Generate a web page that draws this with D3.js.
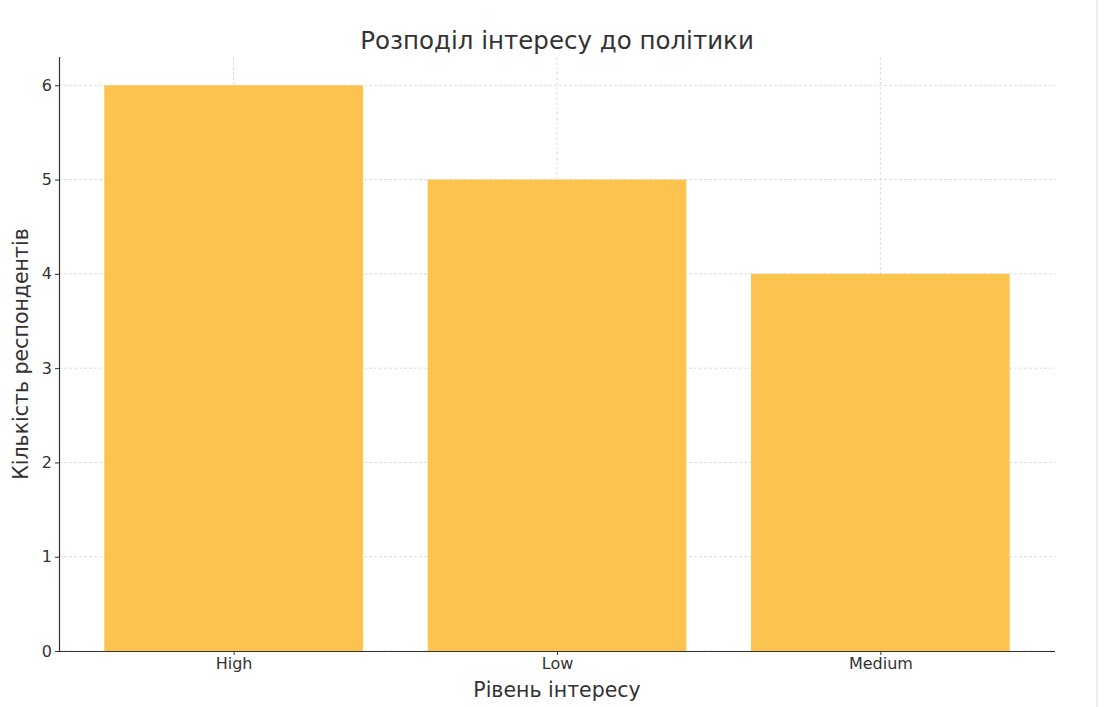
<!DOCTYPE html>
<html><head><meta charset="utf-8">
<script src="https://cdn.jsdelivr.net/npm/d3@7"></script>
<style>body{margin:0;background:#fff;}svg{display:block;font-family:"DejaVu Sans",sans-serif;}</style>
</head><body>
<svg id="c" width="1104" height="707"></svg>
<script>
const categories = ["High", "Low", "Medium"];
const values = [6, 5, 4];
const yTicks = [0, 1, 2, 3, 4, 5, 6];
const title = "Розподіл інтересу до політики";
const xLabel = "Рівень інтересу";
const yLabel = "Кількість респондентів";

const svg = d3.select("#c");
const L = 59, R = 1055, T = 57, B = 651;

const x = d3.scaleLinear().domain([-0.54, 2.54]).range([L, R]);
const y = d3.scaleLinear().domain([0, 6.3]).range([B, T]);
const bw = 0.8;

// right border line of screenshot
svg.append("line").attr("x1", 1097).attr("x2", 1097).attr("y1", 0).attr("y2", 707)
  .attr("stroke", "#eeeeee").attr("stroke-width", 2);

// grid
const g = svg.append("g");
g.selectAll("line.h").data(yTicks).join("line")
  .attr("x1", L).attr("x2", R).attr("y1", d => y(d)).attr("y2", d => y(d))
  .attr("stroke", "#dcdcdc").attr("stroke-width", 1).attr("stroke-dasharray", "3,2");
g.selectAll("line.v").data(categories).join("line")
  .attr("x1", (d, i) => x(i)).attr("x2", (d, i) => x(i)).attr("y1", T).attr("y2", B)
  .attr("stroke", "#dcdcdc").attr("stroke-width", 1).attr("stroke-dasharray", "3,2");

// bars
svg.selectAll("rect.bar").data(values).join("rect")
  .attr("x", (d, i) => x(i - bw / 2)).attr("width", (d, i) => x(i + bw / 2) - x(i - bw / 2))
  .attr("y", d => y(d)).attr("height", d => B - y(d))
  .attr("fill", "#fcc34f");

// axes
const yAx = svg.append("g").attr("transform", `translate(${L},0)`)
  .call(d3.axisLeft(y).tickValues(yTicks).tickFormat(d3.format("d")).tickSize(4).tickPadding(3));
const xAx = svg.append("g").attr("transform", `translate(0,${B})`)
  .call(d3.axisBottom(x).tickValues(categories.map((c, i) => i)).tickFormat(i => categories[i]).tickSize(4).tickPadding(3));
[yAx, xAx].forEach(a => {
  a.select(".domain").attr("stroke", "#333").attr("stroke-width", 1.2);
  a.selectAll(".tick line").attr("stroke", "#333");
  a.selectAll("text").attr("font-size", 16).attr("fill", "#333").attr("font-family", "DejaVu Sans");
});
xAx.select(".domain").attr("d", `M${L},0.5H${R}`);
yAx.select(".domain").attr("d", `M0.5,${B}V${T}`);

svg.append("text").attr("x", (L + R) / 2).attr("y", 49).attr("text-anchor", "middle")
  .attr("font-size", 24.5).attr("fill", "#333").text(title);
svg.append("text").attr("x", (L + R) / 2).attr("y", 697).attr("text-anchor", "middle")
  .attr("font-size", 20.5).attr("fill", "#333").text(xLabel);
svg.append("text").attr("transform", `translate(28,${(T + B) / 2}) rotate(-90)`).attr("text-anchor", "middle")
  .attr("font-size", 20.5).attr("fill", "#333").text(yLabel);
</script>
</body></html>
